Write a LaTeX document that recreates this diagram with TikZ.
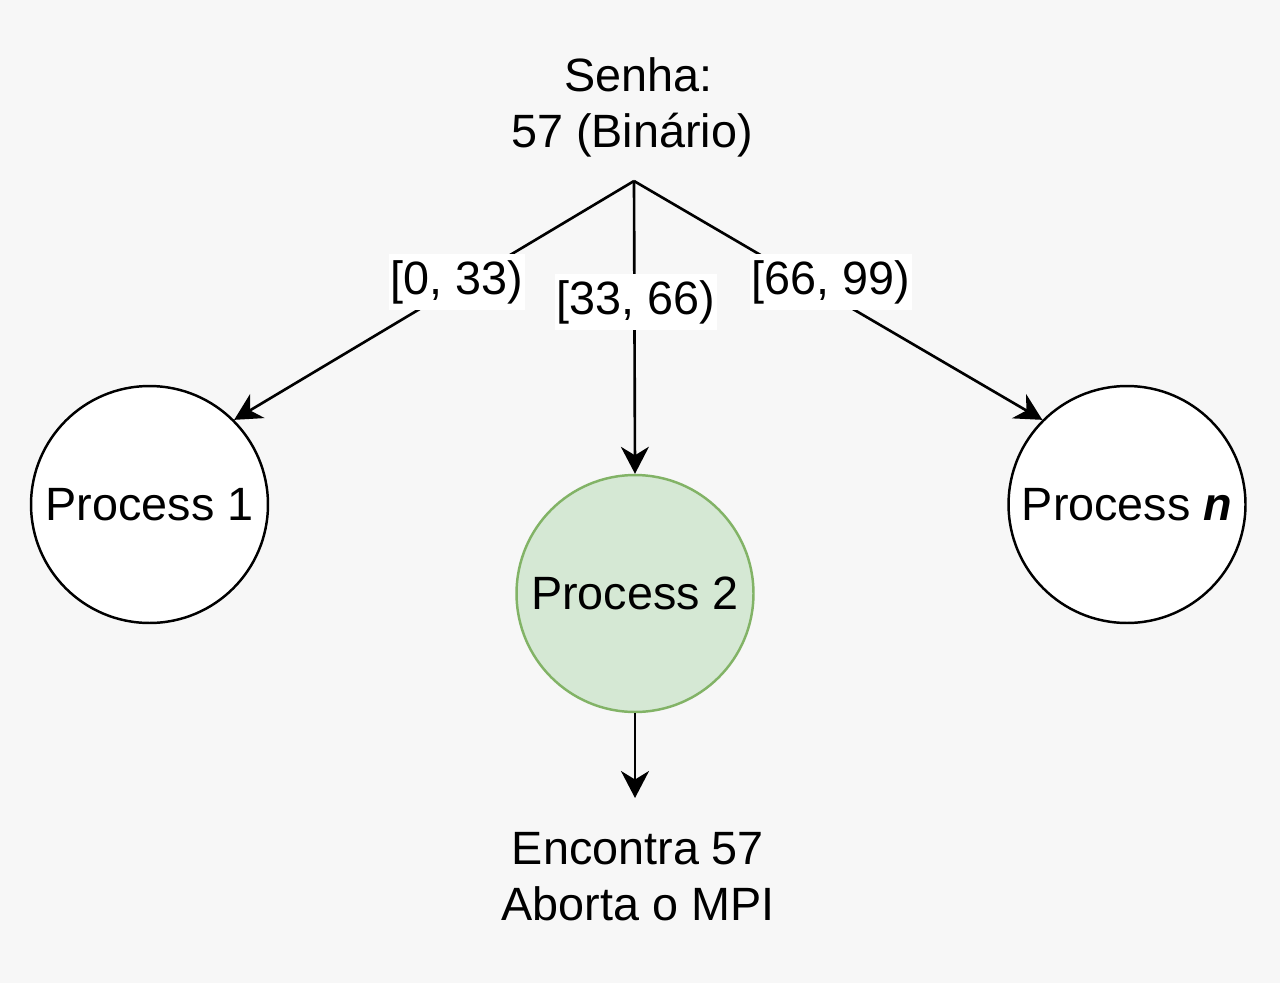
\documentclass[tikz,border=0pt]{standalone}
\usepackage{fontspec}
\setmainfont{Liberation Sans}
\usetikzlibrary{arrows.meta}
\definecolor{bg}{HTML}{F7F7F7}
\definecolor{gfill}{HTML}{D5E8D4}
\definecolor{gdraw}{HTML}{82B366}
\begin{document}
\begin{tikzpicture}[x=0.02cm,y=-0.02cm,
  txt/.style={font=\fontsize{26.6}{31.9}\selectfont, align=center, inner sep=0pt},
  proc/.style={circle, draw=black, fill=white, line width=1.4pt, minimum size=4.74cm, inner sep=0pt, font=\fontsize{26.6}{31.9}\selectfont},
  conn/.style={line width=1.5pt, -{Stealth[length=0.54cm,width=0.56cm,inset=0.17cm]}},
  lbl/.style={fill=white, inner xsep=0.04cm, inner ysep=0pt, minimum height=1.12cm, font=\fontsize{26.6}{31.9}\selectfont}]
\fill[bg] (0,0) rectangle (1280,983);
\useasboundingbox (0,0) rectangle (1280,983);
\node[txt] (senha) at (632,107) {\hspace*{0.278em}Senha:\\57 (Binário)};
\coordinate (top) at (634,181);
\node[proc] (p1) at (149.5,504.5) {Process 1};
\node[proc, fill=gfill, draw=gdraw] (p2) at (635,593.5) {Process 2};
\node[proc] (p3) at (1127,504.5) {Process \textbf{\textit{n}}};
\draw[conn] (top) -- (p1.45);
\draw[conn] (top) -- (p2.north);
\draw[conn] (top) -- (p3.135);
\node[lbl] (l1) at (457,282) {[0, 33)};
\node[lbl] (l2) at (636,302) {[33, 66)};
\node[lbl] (l3) at (831,282) {[66, 99)};
\coordinate (tip) at (635,798);
\draw[conn] (p2.south) -- (tip);
\node[txt] (enc) at (638,877) {Encontra 57\\Aborta o MPI};
\end{tikzpicture}
\end{document}
